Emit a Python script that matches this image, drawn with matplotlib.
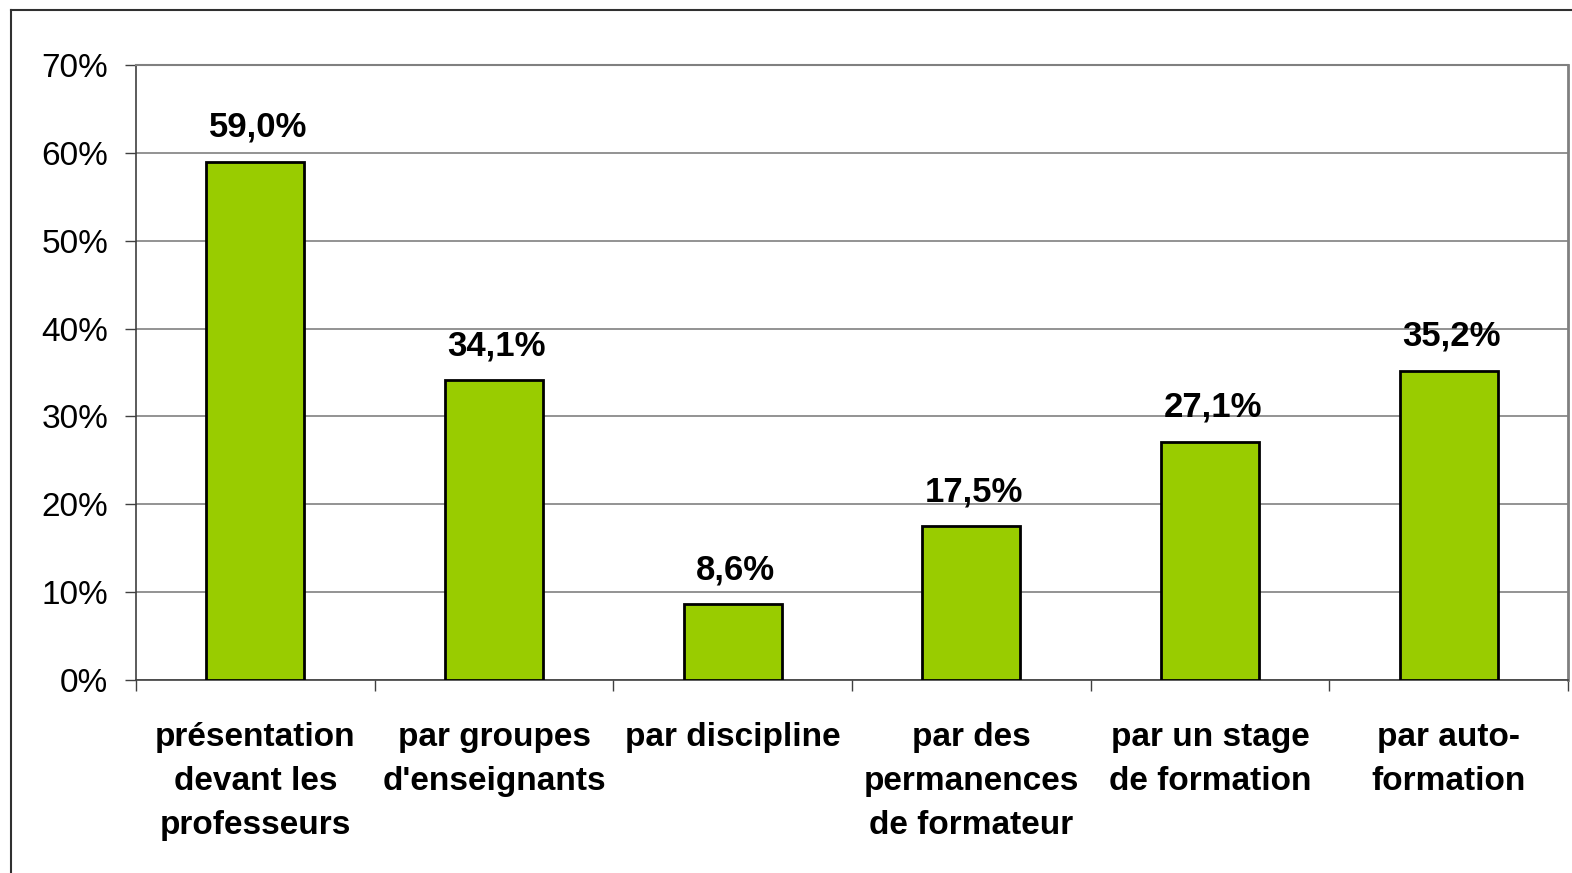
import numpy as np
import matplotlib
matplotlib.use('Agg')
from matplotlib import pyplot as plt
from matplotlib.lines import Line2D

plt.rcParams['font.family'] = ['Liberation Sans', 'DejaVu Sans']

# data
categories = ['présentation\ndevant les\nprofesseurs', 'par groupes\nd\'enseignants',
              'par discipline', 'par des\npermanences\nde formateur',
              'par un stage\nde formation', 'par auto-\nformation']
values = [59.0, 34.1, 8.6, 17.5, 27.1, 35.2]
value_labels = ['59,0%', '34,1%', '8,6%', '17,5%', '27,1%', '35,2%']
yticks = [0, 10, 20, 30, 40, 50, 60, 70]

fig = plt.figure(figsize=(15.72, 8.73), dpi=100)
ax = fig.add_axes([136/1572, 1-680/873, (1568-136)/1572, (680-65)/873])

x = np.arange(len(categories))
ax.bar(x, values, width=0.41, color='#99CC00', edgecolor='black', linewidth=2, zorder=3)

# value labels above bars
for xi, v, lab in zip(x, values, value_labels):
    ax.annotate(lab, (xi, v), xytext=(2, 13), textcoords='offset points',
                ha='center', va='bottom', fontsize=25, fontweight='bold')

ax.set_xlim(-0.5, len(categories) - 0.5)
ax.set_ylim(0, 70)
ax.set_yticks(yticks)
ax.set_yticklabels([f'{t}%' for t in yticks], fontsize=24)
ax.tick_params(axis='y', length=8, width=1, color='#404040', pad=12)

ax.set_xticks(x)
ax.set_xticklabels(categories, fontsize=24, fontweight='bold', linespacing=1.55)
ax.tick_params(axis='x', which='major', length=0, pad=30)
ax.set_xticks(np.arange(-0.5, len(categories)), minor=True)
ax.tick_params(axis='x', which='minor', length=8, width=1, color='#404040')

ax.yaxis.grid(True, color='#808080', linewidth=1.2, zorder=0)
ax.spines['top'].set_color('#808080')
ax.spines['top'].set_linewidth(1.5)
ax.spines['right'].set_color('#808080')
ax.spines['right'].set_linewidth(2)
ax.spines['left'].set_color('#404040')
ax.spines['bottom'].set_color('#404040')
ax.spines['left'].set_linewidth(1.2)
ax.spines['bottom'].set_linewidth(1.2)

# outer chart frame (top and left edges visible)
fig.add_artist(Line2D([11/1572, 1], [1-10/873, 1-10/873], color='#303030', lw=1.5))
fig.add_artist(Line2D([11/1572, 11/1572], [0, 1-10/873], color='#303030', lw=1.5))

fig.savefig('out.png', dpi=100)
